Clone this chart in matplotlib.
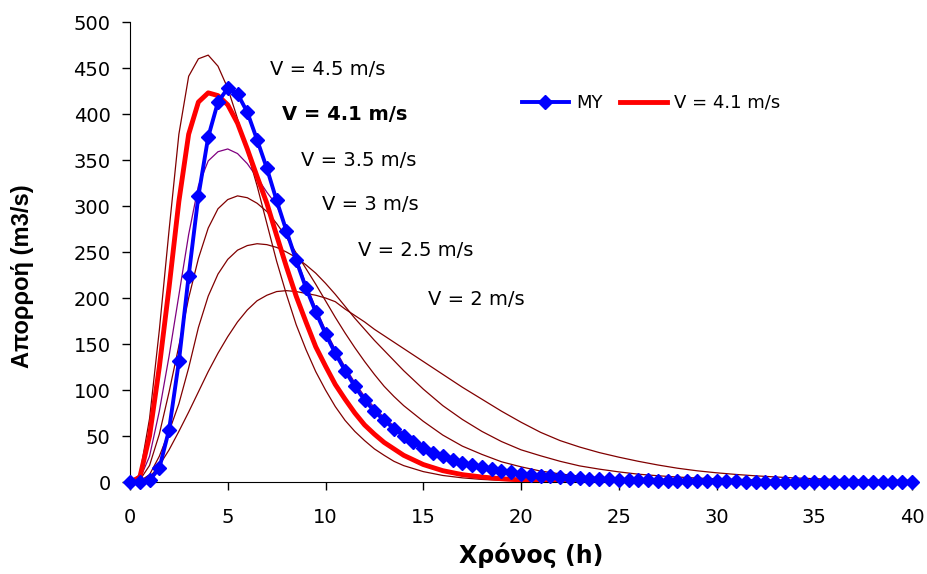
import numpy as np
import matplotlib.pyplot as plt

# time (h)
t_my = np.arange(0, 40.5, 0.5)
t_mod = np.r_[np.arange(0, 14.5, 0.5), np.arange(15, 41, 1)]

# measured hydrograph (MY)
q_my = [0, 0, 2, 15, 57, 131, 224, 311, 375, 413,
        428, 422, 402, 372, 341, 306, 273, 241, 211, 185,
        161, 140, 121, 104, 89, 77, 67, 58, 50, 43,
        37, 32, 28, 24, 21, 18, 16, 14, 12, 10.5,
        9.2, 8, 7, 6.2, 5.4, 4.7, 4.1, 3.6, 3.2, 2.8,
        2.5, 2.2, 1.9, 1.7, 1.5, 1.3, 1.15, 1.0, 0.9, 0.8,
        0.7, 0.6, 0.55, 0.5, 0.45, 0.4, 0.35, 0.3, 0.27, 0.24,
        0.21, 0.19, 0.17, 0.15, 0.13, 0.11, 0.1, 0.09, 0.08, 0.07,
        0.06]

# model hydrographs for different velocities
q_45 = [0, 8, 69, 165, 274, 378, 441, 460, 464, 452,
        428, 395, 359, 322, 281, 240, 204, 171, 144, 120,
        100, 82, 67, 55, 45, 36, 29, 22.5, 17.8,
        11.3, 7.1, 4.5, 2.8, 1.8, 1.1, 0.7, 0.45, 0.3, 0.2, 0.12, 0.08, 0.05, 0.03,
        0, 0, 0, 0, 0, 0, 0, 0, 0, 0, 0, 0]
q_41 = [0, 5, 50, 125, 212, 305, 378, 413, 423, 420,
        410, 390, 362, 332, 303, 268, 234, 202, 174, 147,
        126, 106, 90, 75, 62, 52, 43, 36, 29,
        19, 12.3, 8, 5.4, 3.5, 2.3, 1.5, 1.0, 0.65, 0.4, 0.25, 0.15, 0.1, 0.05,
        0, 0, 0, 0, 0, 0, 0, 0, 0, 0, 0, 0]
q_35 = [0, 3, 28, 77, 137, 203, 269, 322, 349, 359,
        362, 357, 346, 331, 315, 301, 275, 244, 215, 189,
        165, 144, 125, 108, 93, 81, 70, 61, 53,
        40, 30, 22.5, 17, 13, 10, 7.5, 5.7, 4.3, 3.3, 2.5, 1.9, 1.4, 1.1,
        0.8, 0.6, 0.45, 0.35, 0.25, 0.2, 0.15, 0.1, 0.08, 0.06, 0.04, 0.03]
q_30 = [0, 2, 18, 52, 98, 148, 200, 243, 276, 297,
        307, 311, 309, 303, 294, 281, 266, 249, 232, 215,
        197, 179, 162, 146, 131, 117, 104, 93, 83,
        66, 51, 39, 30, 22, 16.5, 11.9, 8.8, 6.3, 4.8, 3.5, 2.6, 1.9, 1.4,
        1.0, 0.75, 0.5, 0.35, 0.25, 0.18, 0.12, 0.08, 0.05, 0.03, 0.02, 0.01]
q_25 = [0, 1, 8, 28, 55, 85, 124, 168, 202, 226,
        242, 252, 257, 259, 258, 255, 250, 244, 236, 227,
        216, 204, 191, 178, 166, 154, 143, 132, 121,
        101, 83, 68, 55, 44, 35, 28.5, 22.5, 17.5, 14, 11, 8.5, 6.8, 5.4,
        4.3, 3.4, 2.7, 2.1, 1.7, 1.3, 1.0, 0.8, 0.6, 0.5, 0.4, 0.3]
q_20 = [0, 0.5, 5, 18, 35, 55, 76, 98, 120, 140,
        158, 174, 187, 197, 203, 207, 208, 207, 205, 203,
        200, 196, 188, 181, 174, 166, 159, 152, 145,
        131, 117, 103, 90, 77, 65, 54, 45, 38, 32, 27, 22.5, 18.5, 15,
        12.2, 10, 8.2, 6.7, 5.5, 4.4, 3.6, 2.9, 2.4, 1.9, 1.5, 1.2]

labels = ["V = 4.5 m/s", "V = 4.1 m/s", "V = 3.5 m/s", "V = 3 m/s", "V = 2.5 m/s", "V = 2 m/s"]
label_x = [10.1, 11.0, 11.7, 12.3, 14.6, 17.7]
label_y = [448, 400, 350, 302, 252, 198]

fig = plt.figure(figsize=(9.27, 5.74), dpi=100)
ax = fig.add_axes([130/927, 92/574, 782/927, 460/574])

maroon = "#800000"
ax.plot(t_mod, q_20, color=maroon, lw=0.9, zorder=2)
ax.plot(t_mod, q_25, color=maroon, lw=0.9, zorder=2)
ax.plot(t_mod, q_30, color=maroon, lw=0.9, zorder=2)
ax.plot(t_mod, q_35, color="#800080", lw=0.9, zorder=2)
ax.plot(t_mod, q_45, color=maroon, lw=0.9, zorder=2)
ax.plot(t_mod, q_41, color="#ff0000", lw=3.5, zorder=3, label="V = 4.1 m/s")
ax.plot(t_my, q_my, color="#0000ff", lw=2.8, marker="D", ms=7, zorder=4,
        clip_on=False, label="MY")

for i, txt in enumerate(labels):
    ax.text(label_x[i], label_y[i], txt, fontsize=14, ha="center", va="center",
            fontweight="bold" if i == 1 else "normal")

h, l = ax.get_legend_handles_labels()
ax.legend(h[::-1], l[::-1], ncol=2, frameon=False, fontsize=13,
          loc="center left", bbox_to_anchor=(0.48, 0.824),
          handlelength=2.6, handletextpad=0.4, columnspacing=1.0)

ax.set_xlim(0, 40)
ax.set_ylim(0, 500)
ax.set_xticks(np.arange(0, 45, 5))
ax.set_yticks(np.arange(0, 550, 50))
ax.spines["top"].set_visible(False)
ax.spines["right"].set_visible(False)
ax.tick_params(direction="out", length=6, width=1, labelsize=14)
ax.tick_params(axis="x", pad=13)
ax.tick_params(axis="y", pad=8)

ax.set_xlabel("Χρόνος (h)", fontsize=17, fontweight="bold")
ax.xaxis.set_label_coords(0.513, -0.132)
ax.set_ylabel("Απορροή (m3/s)", fontsize=17, fontweight="bold", family="Liberation Sans")
ax.yaxis.set_label_coords(-0.123, 0.447)

fig.savefig("out.png", dpi=100)
